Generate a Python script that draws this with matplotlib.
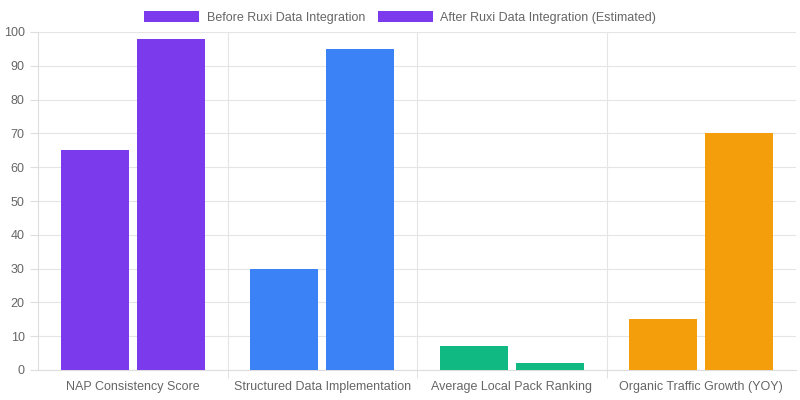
import matplotlib
matplotlib.use("Agg")
import matplotlib.pyplot as plt
from matplotlib.patches import Patch

categories = ["NAP Consistency Score", "Structured Data Implementation", "Average Local Pack Ranking", "Organic Traffic Growth (YOY)"]
before = [65, 30, 7, 15]
after = [98, 95, 2, 70]
colors = ["#7c3aed", "#3b82f6", "#10b981", "#f59e0b"]
series_labels = ["Before Ruxi Data Integration", "After Ruxi Data Integration (Estimated)"]
yticks = list(range(0, 101, 10))

plt.rcParams['font.family'] = ['Liberation Sans', 'DejaVu Sans']
fig = plt.figure(figsize=(8, 4), dpi=100)
ax = fig.add_axes([0.0475, 0.075, 0.9475, 0.845])

w = 0.36
for i in range(len(categories)):
    ax.bar(i - 0.2, before[i], width=w, color=colors[i], zorder=3)
    ax.bar(i + 0.2, after[i], width=w, color=colors[i], zorder=3)

ax.set_xlim(-0.5, len(categories) - 0.5)
ax.set_ylim(0, 100)
ax.set_yticks(yticks)
ax.set_xticks(range(len(categories)))
ax.set_xticklabels(categories)
ax.set_xticks([i + 0.5 for i in range(len(categories) - 1)], minor=True)
ax.grid(axis='y', color='#e5e5e5', linewidth=0.8, zorder=0)
ax.grid(axis='x', which='minor', color='#e5e5e5', linewidth=0.8, zorder=0)
ax.tick_params(axis='both', which='major', colors='#dddddd', labelcolor='#666666', labelsize=9, length=6)
ax.tick_params(axis='x', which='minor', length=6, colors='#dddddd')
ax.tick_params(axis='x', which='major', length=0, pad=8)
for s in ['top', 'right']:
    ax.spines[s].set_visible(False)
for s in ['left', 'bottom']:
    ax.spines[s].set_color('#dddddd')

handles = [Patch(facecolor=colors[0]), Patch(facecolor=colors[0])]
fig.legend(handles, series_labels, loc='upper center', bbox_to_anchor=(0.5, 1.0), ncol=2, frameon=False,
           fontsize=9, labelcolor='#666666', handlelength=4.4, handleheight=0.9, columnspacing=1.0, handletextpad=0.6)
fig.savefig("out.png", dpi=100)
